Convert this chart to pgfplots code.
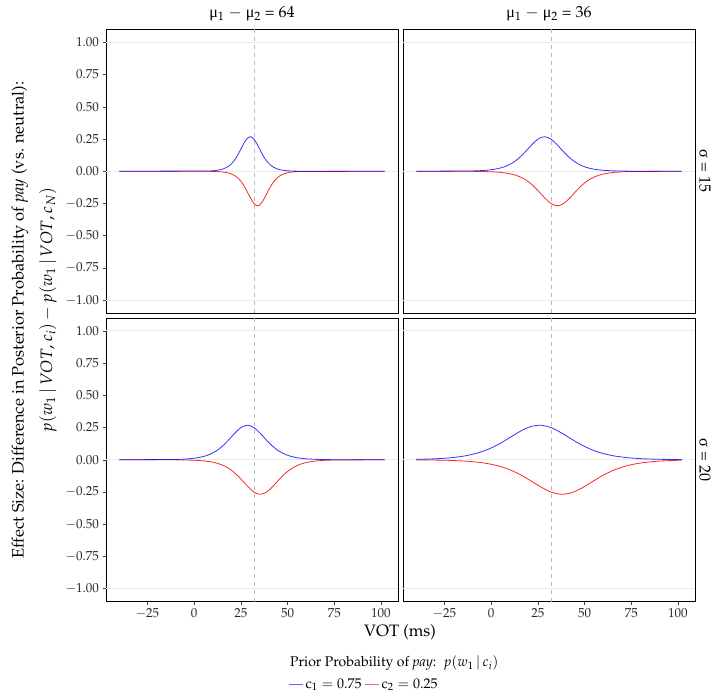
\documentclass[border=0pt]{standalone}
\usepackage{fontspec}
\usepackage[T1]{fontenc}
\usepackage{mathpazo}
\newfontfamily\grk{Liberation Serif}
\usepackage{pgfplots}
\usepackage{pgfplotstable}
\pgfplotsset{compat=1.18}

% s = sigma^2/d = 225/64
\pgfplotstableread{
x blue red
-40 0 0
7.391 0.00182 -0.00061
9.148 0.00299 -0.00100
10.906 0.00491 -0.00165
12.664 0.00804 -0.00271
14.422 0.01312 -0.00445
16.180 0.02127 -0.00730
17.938 0.03410 -0.01192
19.695 0.05376 -0.01935
21.453 0.08253 -0.03110
23.211 0.12174 -0.04923
24.969 0.16956 -0.07604
26.727 0.21855 -0.11320
28.484 0.25569 -0.15971
30.242 0.26780 -0.20936
32 0.25 -0.25
33.758 0.20936 -0.26780
35.516 0.15971 -0.25569
37.273 0.11320 -0.21855
39.031 0.07604 -0.16956
40.789 0.04923 -0.12174
42.547 0.03110 -0.08253
44.305 0.01935 -0.05376
46.063 0.01192 -0.03410
47.820 0.00730 -0.02127
49.578 0.00445 -0.01312
51.336 0.00271 -0.00804
53.094 0.00165 -0.00491
54.852 0.00100 -0.00299
56.609 0.00061 -0.00182
102 0 0
}\tabA

% s = 6.25 (sigma 15, d 36 and sigma 20, d 64)
\pgfplotstableread{
x blue red
-40 0 0
-11.75 0.00182 -0.00061
-8.625 0.00299 -0.00100
-5.5 0.00491 -0.00165
-2.375 0.00804 -0.00271
0.75 0.01312 -0.00445
3.875 0.02127 -0.00730
7 0.03410 -0.01192
10.125 0.05376 -0.01935
13.25 0.08253 -0.03110
16.375 0.12174 -0.04923
19.5 0.16956 -0.07604
22.625 0.21855 -0.11320
25.75 0.25569 -0.15971
28.875 0.26780 -0.20936
32 0.25 -0.25
35.125 0.20936 -0.26780
38.25 0.15971 -0.25569
41.375 0.11320 -0.21855
44.5 0.07604 -0.16956
47.625 0.04923 -0.12174
50.75 0.03110 -0.08253
53.875 0.01935 -0.05376
57 0.01192 -0.03410
60.125 0.00730 -0.02127
63.25 0.00445 -0.01312
66.375 0.00271 -0.00804
69.5 0.00165 -0.00491
72.625 0.00100 -0.00299
75.75 0.00061 -0.00182
102 0 0
}\tabB

% s = 400/36
\pgfplotstableread{
x blue red
-40 0.00305 -0.00102
-34.667 0.00491 -0.00165
-29.111 0.00804 -0.00271
-23.556 0.01312 -0.00445
-18 0.02127 -0.00730
-12.444 0.03410 -0.01192
-6.889 0.05376 -0.01935
-1.333 0.08253 -0.03110
4.222 0.12174 -0.04923
9.778 0.16956 -0.07604
15.333 0.21855 -0.11320
20.889 0.25569 -0.15971
26.444 0.26780 -0.20936
32 0.25 -0.25
37.556 0.20936 -0.26780
43.111 0.15971 -0.25569
48.667 0.11320 -0.21855
54.222 0.07604 -0.16956
59.778 0.04923 -0.12174
65.333 0.03110 -0.08253
70.889 0.01935 -0.05376
76.444 0.01192 -0.03410
82 0.00730 -0.02127
87.556 0.00445 -0.01312
93.111 0.00271 -0.00804
98.667 0.00165 -0.00491
102 0.00122 -0.00365
}\tabD

\newcommand{\tickf}{\fontsize{13}{13}\selectfont}
\newcommand{\stripf}{\fontsize{16}{16}\selectfont}
\newcommand{\axtf}{\fontsize{16.5}{17}\selectfont}
\newcommand{\legf}{\fontsize{14}{14}\selectfont}

\pgfplotsset{
  panel/.style={
    scale only axis, width=292pt, height=283.5pt,
    xmin=-47.1, xmax=109.1, ymin=-1.1, ymax=1.1,
    axis line style={black, line width=0.6pt},
    tick align=outside, major tick length=3.5pt,
    tick style={black!75, line width=0.5pt},
    xtick={-25,0,25,50,75,100},
    ytick={-1,-0.75,-0.5,-0.25,0,0.25,0.5,0.75,1},
    xtick pos=bottom, ytick pos=left,
    tick label style={font=\tickf, text=black!85},
    yticklabel style={/pgf/number format/.cd, fixed, fixed zerofill, precision=2},
  },
  gridline/.style={black!8, line width=1pt, forget plot},
  vline/.style={black!28, dash pattern=on 4pt off 4pt, line width=0.6pt, forget plot},
  redc/.style={red, draw opacity=0.85, line width=0.8pt, smooth, forget plot},
  bluec/.style={blue, draw opacity=0.8, line width=0.8pt, smooth, forget plot},
}

\newcommand{\basics}{%
  \addplot[gridline] coordinates {(-47.1,-1) (109.1,-1)};
  \addplot[gridline] coordinates {(-47.1,0) (109.1,0)};
  \addplot[gridline] coordinates {(-47.1,1) (109.1,1)};
  \addplot[vline] coordinates {(32,-1.1) (32,1.1)};
}
\newcommand{\curves}[1]{%
  \addplot[redc] table[x=x, y=red] {#1};
  \addplot[bluec] table[x=x, y=blue] {#1};
}

\begin{document}
\begin{tikzpicture}
\path[use as bounding box] (0pt,0pt) rectangle (715pt,-696pt);

\begin{axis}[panel, at={(106pt,-29.5pt)}, anchor=north west, xtick=\empty]
  \basics
  \curves{\tabA}
\end{axis}

\begin{axis}[panel, at={(403pt,-29.5pt)}, anchor=north west, xtick=\empty, ytick=\empty]
  \basics
  \curves{\tabB}
\end{axis}

\begin{axis}[panel, at={(106pt,-318pt)}, anchor=north west,
  legend style={at={(axis description cs:0.625,-0.291)}, anchor=west, draw=none, fill=none,
    font=\legf, inner sep=0pt, /tikz/every even column/.append style={column sep=1pt}},
  legend columns=2,
  legend image code/.code={\draw[#1, line width=1pt] (0pt,0pt) -- (14pt,0pt);}]
  \basics
  \curves{\tabB}
  \addlegendimage{blue, opacity=0.6}
  \addlegendentry{$\mathrm{c}_1 = 0.75$}
  \addlegendimage{red, opacity=0.6}
  \addlegendentry{$\mathrm{c}_2 = 0.25$}
\end{axis}

\begin{axis}[panel, at={(403pt,-318pt)}, anchor=north west, ytick=\empty]
  \basics
  \curves{\tabD}
\end{axis}

% strip labels
\node[font=\stripf] at (252pt,-14pt) {{\grk μ}\textsubscript{1} $-$ {\grk μ}\textsubscript{2} = 64};
\node[font=\stripf] at (549pt,-14pt) {{\grk μ}\textsubscript{1} $-$ {\grk μ}\textsubscript{2} = 36};
\node[font=\stripf, rotate=-90] at (705pt,-171pt) {{\grk σ} = 15};
\node[font=\stripf, rotate=-90] at (705pt,-460pt) {{\grk σ} = 20};

% axis titles
\node[font=\axtf, rotate=90] at (20pt,-320pt) {Effect Size: Difference in Posterior Probability of \textit{pay} (vs. neutral):};
\node[font=\axtf, rotate=90] at (48pt,-310pt) {$p(w_1\,|\,VOT, c_i) - p(w_1\,|\,VOT, c_N)$};
\node[font=\axtf] at (400pt,-632pt) {VOT (ms)};

% legend title
\node[anchor=west, font=\legf, inner sep=0pt] at (290pt,-663pt) {Prior Probability of \textit{pay}:\enspace $p(w_1\,|\,c_i)$};
\end{tikzpicture}
\end{document}
